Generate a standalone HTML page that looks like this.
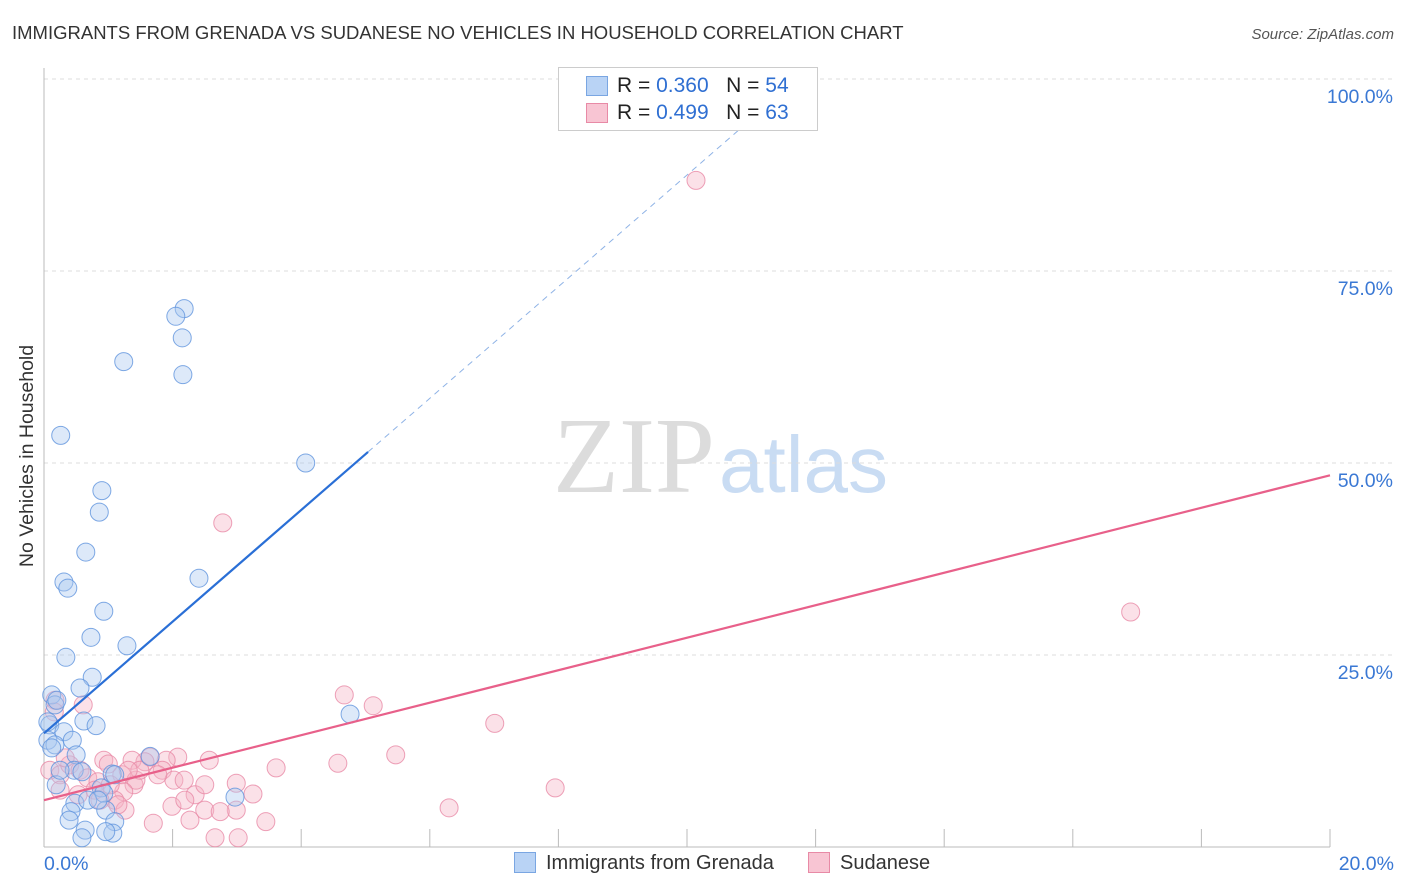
<!DOCTYPE html>
<html><head><meta charset="utf-8"><style>
body{margin:0;background:#fff;font-family:"Liberation Sans",sans-serif}
#wrap{position:relative;width:1406px;height:892px;overflow:hidden}
</style></head><body>
<div id="wrap">
<svg id="svg" width="1406" height="892" xmlns="http://www.w3.org/2000/svg" font-family="Liberation Sans, sans-serif">
<text x="12" y="39" font-size="18.5" fill="#333">IMMIGRANTS FROM GRENADA VS SUDANESE NO VEHICLES IN HOUSEHOLD CORRELATION CHART</text>
<text x="1394" y="39" font-size="15" fill="#555" font-style="italic" text-anchor="end">Source: ZipAtlas.com</text>
<text x="33" y="456" font-size="19.5" fill="#333" text-anchor="middle" transform="rotate(-90 33 456)">No Vehicles in Household</text>
<text x="553" y="492" font-size="108" fill="#dcdcdc" font-family="Liberation Serif, serif">ZIP</text>
<text x="719" y="492" font-size="80" fill="#c9dcf3">atlas</text>
<g id="grid"></g><g id="pts"></g><g id="lines"></g>
</svg>
<div style="position:absolute;left:558px;top:67px;width:258px;height:62px;border:1px solid #ccc;background:#fff;font-size:21px;color:#222">
 <div style="position:absolute;left:27px;top:8px;width:20px;height:18px;background:#b9d3f5;border:1px solid #7aa6e2"></div>
 <div style="position:absolute;left:58px;top:6px">R = <span style="color:#2f6fd2">0.360</span>&nbsp;&nbsp;&nbsp;N = <span style="color:#2f6fd2">54</span></div>
 <div style="position:absolute;left:27px;top:35px;width:20px;height:18px;background:#f8c5d3;border:1px solid #e88aa6"></div>
 <div style="position:absolute;left:58px;top:33px">R = <span style="color:#2f6fd2">0.499</span>&nbsp;&nbsp;&nbsp;N = <span style="color:#2f6fd2">63</span></div>
</div>
<div style="position:absolute;left:514px;top:852px;font-size:20px;color:#333"><span style="display:inline-block;width:20px;height:19px;background:#b9d3f5;border:1px solid #7aa6e2;vertical-align:-4px;margin-right:10px"></span>Immigrants from Grenada</div>
<div style="position:absolute;left:808px;top:852px;font-size:20px;color:#333"><span style="display:inline-block;width:20px;height:19px;background:#f8c5d3;border:1px solid #e88aa6;vertical-align:-4px;margin-right:10px"></span>Sudanese</div>
</div>
<script>
const blueX=[2.18,2.05,2.15,1.24,2.16,0.26,4.07,0.90,0.86,0.65,2.41,0.31,0.37,0.93,0.73,1.29,0.34,0.75,0.56,0.12,0.17,0.62,0.81,0.09,0.31,0.06,0.17,0.44,0.50,0.47,0.19,0.59,1.06,0.89,0.93,0.48,0.68,0.96,2.97,4.76,0.42,0.39,0.64,1.10,1.07,0.96,0.59,0.06,1.65,0.20,0.84,0.25,1.10,0.12];
const blueY=[70.1,69.1,66.3,63.2,61.5,53.6,50.0,46.4,43.6,38.4,35.0,34.5,33.7,30.7,27.3,26.2,24.7,22.1,20.7,19.8,18.5,16.4,15.8,15.9,15.0,13.9,13.3,13.9,12.0,10.0,8.1,9.8,9.5,7.7,7.0,5.7,6.1,4.8,6.5,17.3,4.6,3.5,2.2,3.3,1.8,2.0,1.2,16.3,11.8,19.1,6.1,10.0,9.4,12.9];
const pinkX=[10.14,2.78,16.9,4.67,5.12,7.01,5.47,4.57,7.95,6.30,3.61,3.25,2.99,2.99,3.45,3.02,2.66,2.57,2.08,1.90,1.65,1.57,1.37,0.93,1.0,1.21,1.40,1.84,2.02,2.18,2.35,2.50,2.74,2.27,1.99,1.70,1.43,1.24,1.10,0.61,0.17,0.16,0.09,0.25,0.40,0.56,0.68,0.84,1.03,0.79,0.25,0.53,1.26,1.15,1.77,1.49,0.33,0.87,1.31,2.50,2.19];
const pinkY=[86.8,42.2,30.6,19.8,18.4,16.1,12.0,10.9,7.7,5.1,10.3,6.9,8.3,4.8,3.3,1.2,1.2,11.3,11.7,11.3,11.7,11.1,11.3,11.3,10.8,9.4,8.1,10.0,8.7,8.7,6.8,4.8,4.6,3.5,5.3,3.1,8.7,7.2,6.1,18.5,19.1,17.6,10.0,9.4,10.7,10.0,9.0,8.5,8.1,7.4,7.4,6.8,4.8,5.5,9.4,10.0,11.6,6.1,10.0,8.1,6.1];
const blueLine=[14.8,7.27];   // intercept, slope
const pinkLine=[6.1,2.115];
const xTicks=[0,2,4,6,8,10,12,14,16,18,20];
const yTicks=[25,50,75,100];
const X=v=>44+v/20*1286, Y=v=>847-v*7.68;
const NS="http://www.w3.org/2000/svg";
function mk(t,a,p){const e=document.createElementNS(NS,t);for(const k in a)e.setAttribute(k,a[k]);p.appendChild(e);return e;}
const g=document.getElementById('grid');
yTicks.forEach(t=>{
 const l=mk('line',{x1:44,x2:1394,y1:Y(t),y2:Y(t),stroke:'#ddd','stroke-dasharray':'4,4'},g);
 
 
 const tx=mk('text',{x:1393,y:Y(t)+24,'font-size':19.5,fill:'#3a78d4','text-anchor':'end'},g);tx.textContent=t.toFixed(1)+'%';
 
 
});
const ax=mk('line',{x1:44,x2:1330,y1:847,y2:847,stroke:'#bbb'},g);


const ay=mk('line',{x1:44,x2:44,y1:68,y2:847,stroke:'#bbb'},g);


xTicks.forEach(t=>{
 const l=mk('line',{x1:X(t),x2:X(t),y1:829,y2:847,stroke:'#bbb'},g);
 
 
});
[[0,'start'],[20,'end']].forEach(([t,a])=>{
 const tx=mk('text',{x:t==0?44:1394,y:870,'font-size':19.5,fill:'#3a78d4','text-anchor':a},g);tx.textContent=t.toFixed(1)+'%';
 
 
});
const pg=document.getElementById('pts');
function pts(xs,ys,fill,stroke,name){xs.forEach((x,i)=>{
 const c=mk('circle',{cx:X(x),cy:Y(ys[i]),r:9,fill:fill,'fill-opacity':0.4,stroke:stroke,'stroke-opacity':0.8,'stroke-width':1},pg);
 
 
});}
pts(pinkX,pinkY,'#f4b3c6','#e88aa6','sudanese-point');
pts(blueX,blueY,'#a9c8f0','#5f93dd','grenada-point');
const lg=document.getElementById('lines');
const bEnd=(100-blueLine[0])/blueLine[1];
const b1=mk('line',{x1:X(0),y1:Y(blueLine[0]),x2:X(5.04),y2:Y(blueLine[0]+blueLine[1]*5.04),stroke:'#2a6fd6','stroke-width':2.2},lg);


const b2=mk('line',{x1:X(5.04),y1:Y(blueLine[0]+blueLine[1]*5.04),x2:X(bEnd),y2:Y(100),stroke:'#8fb3e6','stroke-width':1,'stroke-dasharray':'6,5'},lg);


const p1=mk('line',{x1:X(0),y1:Y(pinkLine[0]),x2:X(20),y2:Y(pinkLine[0]+pinkLine[1]*20),stroke:'#e8608a','stroke-width':2.2},lg);


</script>
</body></html>
